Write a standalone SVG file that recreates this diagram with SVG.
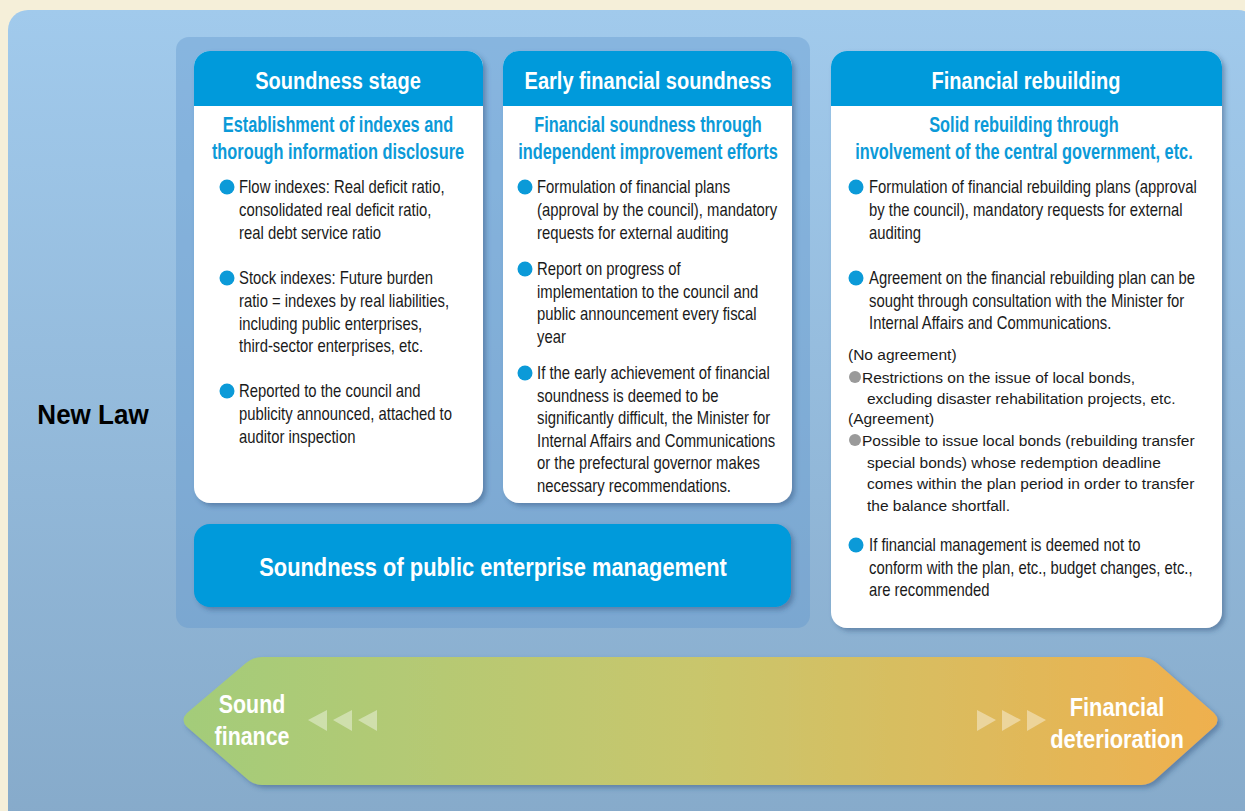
<svg xmlns="http://www.w3.org/2000/svg" width="1245" height="811" viewBox="0 0 1245 811">
<defs>
<linearGradient id="bgGrad" x1="0" y1="0" x2="0" y2="1">
<stop offset="0" stop-color="#A1CAEC"/>
<stop offset="1" stop-color="#86AACA"/>
</linearGradient>
<linearGradient id="arrowGrad" x1="0" y1="0" x2="1" y2="0">
<stop offset="0" stop-color="#A3CC7A"/>
<stop offset="0.5" stop-color="#C9C66C"/>
<stop offset="1" stop-color="#EFB04E"/>
</linearGradient>
<filter id="shadow" x="-10%" y="-10%" width="120%" height="120%">
<feDropShadow dx="3" dy="3" stdDeviation="2.5" flood-color="#2C4F78" flood-opacity="0.45"/>
</filter>
<clipPath id="c1"><rect x="194" y="51" width="289" height="452" rx="16"/></clipPath>
<clipPath id="c2"><rect x="503" y="51" width="289" height="452" rx="16"/></clipPath>
<clipPath id="c3"><rect x="831" y="51" width="391" height="577" rx="16"/></clipPath>
</defs>
<style>
text{font-family:"Liberation Sans",Arial,sans-serif}
.hd{font-size:23px;font-weight:bold;fill:#fff;text-anchor:middle}
.sub{font-size:21.5px;font-weight:bold;fill:#0B9AD8;text-anchor:middle}
.bt{font-size:18px;fill:#1a1a1a}
.gt{font-size:15.5px;fill:#1a1a1a}
.dot{fill:#0B9AD8}
.gdot{fill:#9A9A9A}
.card{fill:#fff}
.hdr{fill:#009ADB}
.big{font-size:25px;font-weight:bold;fill:#fff;text-anchor:middle}
.tri{fill:#fff;fill-opacity:0.4}
</style>
<rect width="1245" height="811" fill="#F5EFD9"/>
<rect x="8" y="10" width="1250" height="820" rx="20" fill="url(#bgGrad)"/>
<rect x="176" y="37" width="634" height="591" rx="13" fill="#5F95CC" fill-opacity="0.38"/>

<g id="newlaw">
<text transform="translate(93 0) scale(0.93 1)" x="0" y="424" font-size="28" font-weight="bold" fill="#000" text-anchor="middle">New Law</text>
</g>

<g id="soundness-stage">
<g filter="url(#shadow)"><rect x="194" y="51" width="289" height="452" rx="16" class="card"/></g>
<rect x="194" y="51" width="289" height="55" class="hdr" clip-path="url(#c1)"/>
<text transform="translate(338 0) scale(0.87 1)" x="0" y="89" class="hd">Soundness stage</text>
<text transform="translate(338 0) scale(0.76 1)" class="sub"><tspan x="0" y="132">Establishment of indexes and</tspan><tspan x="0" y="159">thorough information disclosure</tspan></text>
<circle cx="227" cy="187" r="7.5" class="dot"/>
<text transform="translate(239 0) scale(0.825 1)" class="bt"><tspan x="0" y="193">Flow indexes: Real deficit ratio,</tspan><tspan x="0" y="216">consolidated real deficit ratio,</tspan><tspan x="0" y="239">real debt service ratio</tspan></text>
<circle cx="227" cy="278" r="7.5" class="dot"/>
<text transform="translate(239 0) scale(0.825 1)" class="bt"><tspan x="0" y="284">Stock indexes: Future burden</tspan><tspan x="0" y="307">ratio = indexes by real liabilities,</tspan><tspan x="0" y="330">including public enterprises,</tspan><tspan x="0" y="352">third-sector enterprises, etc.</tspan></text>
<circle cx="227" cy="391" r="7.5" class="dot"/>
<text transform="translate(239 0) scale(0.825 1)" class="bt"><tspan x="0" y="397">Reported to the council and</tspan><tspan x="0" y="420">publicity announced, attached to</tspan><tspan x="0" y="443">auditor inspection</tspan></text>
</g>

<g id="early-financial-soundness">
<g filter="url(#shadow)"><rect x="503" y="51" width="289" height="452" rx="16" class="card"/></g>
<rect x="503" y="51" width="289" height="55" class="hdr" clip-path="url(#c2)"/>
<text transform="translate(648 0) scale(0.87 1)" x="0" y="89" class="hd">Early financial soundness</text>
<text transform="translate(648 0) scale(0.76 1)" class="sub"><tspan x="0" y="132">Financial soundness through</tspan><tspan x="0" y="159">independent improvement efforts</tspan></text>
<circle cx="525" cy="187" r="7.5" class="dot"/>
<text transform="translate(537 0) scale(0.825 1)" class="bt"><tspan x="0" y="193">Formulation of financial plans</tspan><tspan x="0" y="216">(approval by the council), mandatory</tspan><tspan x="0" y="239">requests for external auditing</tspan></text>
<circle cx="525" cy="269" r="7.5" class="dot"/>
<text transform="translate(537 0) scale(0.825 1)" class="bt"><tspan x="0" y="275">Report on progress of</tspan><tspan x="0" y="298">implementation to the council and</tspan><tspan x="0" y="320">public announcement every fiscal</tspan><tspan x="0" y="343">year</tspan></text>
<circle cx="525" cy="373" r="7.5" class="dot"/>
<text transform="translate(537 0) scale(0.825 1)" class="bt"><tspan x="0" y="379">If the early achievement of financial</tspan><tspan x="0" y="402">soundness is deemed to be</tspan><tspan x="0" y="424">significantly difficult, the Minister for</tspan><tspan x="0" y="447">Internal Affairs and Communications</tspan><tspan x="0" y="469">or the prefectural governor makes</tspan><tspan x="0" y="492">necessary recommendations.</tspan></text>
</g>

<g id="public-enterprise">
<g filter="url(#shadow)"><rect x="194" y="524" width="597" height="83" rx="16" fill="#009ADB"/></g>
<text transform="translate(493 0) scale(0.875 1)" x="0" y="576" class="big">Soundness of public enterprise management</text>
</g>

<g id="financial-rebuilding">
<g filter="url(#shadow)"><rect x="831" y="51" width="391" height="577" rx="16" class="card"/></g>
<rect x="831" y="51" width="391" height="55" class="hdr" clip-path="url(#c3)"/>
<text transform="translate(1026 0) scale(0.87 1)" x="0" y="89" class="hd">Financial rebuilding</text>
<text transform="translate(1024 0) scale(0.76 1)" class="sub"><tspan x="0" y="132">Solid rebuilding through</tspan><tspan x="0" y="159">involvement of the central government, etc.</tspan></text>
<circle cx="856" cy="187" r="7.5" class="dot"/>
<text transform="translate(869 0) scale(0.825 1)" class="bt"><tspan x="0" y="193">Formulation of financial rebuilding plans (approval</tspan><tspan x="0" y="216">by the council), mandatory requests for external</tspan><tspan x="0" y="239">auditing</tspan></text>
<circle cx="856" cy="278" r="7.5" class="dot"/>
<text transform="translate(869 0) scale(0.825 1)" class="bt"><tspan x="0" y="284">Agreement on the financial rebuilding plan can be</tspan><tspan x="0" y="307">sought through consultation with the Minister for</tspan><tspan x="0" y="329">Internal Affairs and Communications.</tspan></text>
<text class="gt"><tspan x="848" y="360">(No agreement)</tspan></text>
<circle cx="855" cy="377" r="6" class="gdot"/>
<text class="gt"><tspan x="862" y="383">Restrictions on the issue of local bonds,</tspan><tspan x="867" y="404">excluding disaster rehabilitation projects, etc.</tspan></text>
<text class="gt"><tspan x="848" y="424">(Agreement)</tspan></text>
<circle cx="855" cy="440" r="6" class="gdot"/>
<text class="gt"><tspan x="862" y="446">Possible to issue local bonds (rebuilding transfer</tspan><tspan x="867" y="468">special bonds) whose redemption deadline</tspan><tspan x="867" y="489">comes within the plan period in order to transfer</tspan><tspan x="867" y="511">the balance shortfall.</tspan></text>
<circle cx="856" cy="545" r="7.5" class="dot"/>
<text transform="translate(869 0) scale(0.825 1)" class="bt"><tspan x="0" y="551">If financial management is deemed not to</tspan><tspan x="0" y="574">conform with the plan, etc., budget changes, etc.,</tspan><tspan x="0" y="596">are recommended</tspan></text>
</g>

<g id="scale-arrow">
<g filter="url(#shadow)"><path d="M262 657 H1141 Q1150 657 1157 663 L1214 713 Q1221 720 1214 727 L1157 778 Q1150 785 1141 785 H262 Q253 785 246 778 L187 727 Q180 720 187 713 L246 663 Q253 657 262 657 Z" fill="url(#arrowGrad)"/></g>
<text transform="translate(252 0) scale(0.855 1)" class="big"><tspan x="0" y="713">Sound</tspan><tspan x="0" y="745">finance</tspan></text>
<text transform="translate(1117 0) scale(0.875 1)" class="big"><tspan x="0" y="716">Financial</tspan><tspan x="0" y="748">deterioration</tspan></text>
<polygon points="308,720 327,710 327,731" class="tri"/>
<polygon points="333,720 352,710 352,731" class="tri"/>
<polygon points="358,720 377,710 377,731" class="tri"/>
<polygon points="996,720 977,710 977,731" class="tri"/>
<polygon points="1021,720 1002,710 1002,731" class="tri"/>
<polygon points="1046,720 1027,710 1027,731" class="tri"/>
</g>
<g id="connectors"></g>
</svg>
